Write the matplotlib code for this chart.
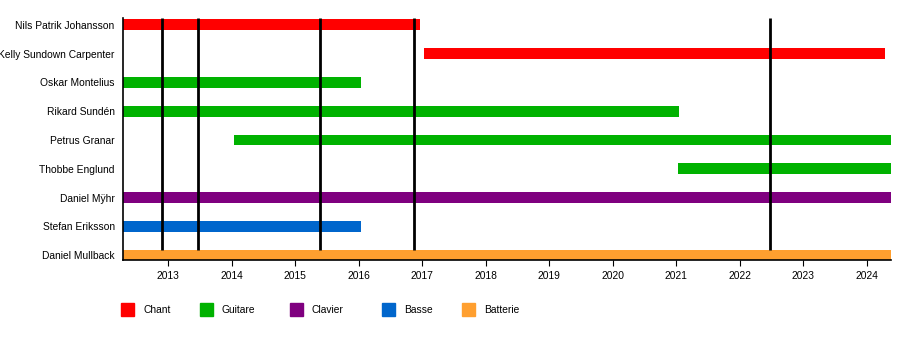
import matplotlib.pyplot as plt
from matplotlib.patches import Rectangle

plt.rcParams['font.family'] = ['Liberation Sans', 'DejaVu Sans']

# Members and their periods (decimal years)
members = ["Nils Patrik Johansson", "Kelly Sundown Carpenter", "Oskar Montelius",
           "Rikard Sundén", "Petrus Granar", "Thobbe Englund", "Daniel Mÿhr",
           "Stefan Eriksson", "Daniel Mullback"]
starts = [2012.29, 2017.03, 2012.29, 2012.29, 2014.04, 2021.03, 2012.29, 2012.29, 2012.29]
ends = [2016.97, 2024.29, 2016.04, 2021.05, 2024.38, 2024.38, 2024.38, 2016.04, 2024.38]
roles = ["Chant", "Chant", "Guitare", "Guitare", "Guitare", "Guitare", "Clavier", "Basse", "Batterie"]

role_names = ["Chant", "Guitare", "Clavier", "Basse", "Batterie"]
role_colors = ["#FF0000", "#00B200", "#7F007F", "#0066CC", "#FF9F2F"]

# Album release dates
releases = [2012.9, 2013.47, 2015.39, 2016.87, 2022.48]

years = list(range(2013, 2025))
x_start, x_end = 2012.29, 2024.38

fig = plt.figure(figsize=(9, 3.5), dpi=100)
ax = fig.add_axes([123 / 900, 1 - 260 / 350, 768 / 900, 242 / 350])

color_of = dict(zip(role_names, role_colors))
for i, (s, e, r) in enumerate(zip(starts, ends, roles)):
    ax.barh(i, e - s, left=s, height=0.38, color=color_of[r], zorder=2)

# Release lines
ax.vlines(releases, -0.24, len(members) - 1 - 0.19, color='black', linewidth=2, zorder=3)

ax.set_xlim(x_start, x_end)
ax.set_ylim(len(members) - 1 + 0.17, -0.24)
ax.set_yticks(range(len(members)))
ax.set_yticklabels(members, fontsize=7.4)
ax.tick_params(axis='y', length=0, pad=6)
ax.set_xticks(years)
ax.set_xticklabels([str(y) for y in years], fontsize=7.4)
ax.tick_params(axis='x', length=4, width=0.8, pad=4)
for sp in ['top', 'right']:
    ax.spines[sp].set_visible(False)
for sp in ['left', 'bottom']:
    ax.spines[sp].set_linewidth(1.2)

# Legend
leg_x = [121, 200, 290, 382, 462]
for name, col, lx in zip(role_names, role_colors, leg_x):
    fig.patches.append(Rectangle((lx / 900, 1 - 316 / 350), 13 / 900, 13 / 350,
                                 transform=fig.transFigure, color=col, figure=fig))
    fig.text((lx + 22) / 900, 1 - 310 / 350, name, fontsize=7.4, va='center', ha='left')

fig.savefig("out.png", dpi=100)
